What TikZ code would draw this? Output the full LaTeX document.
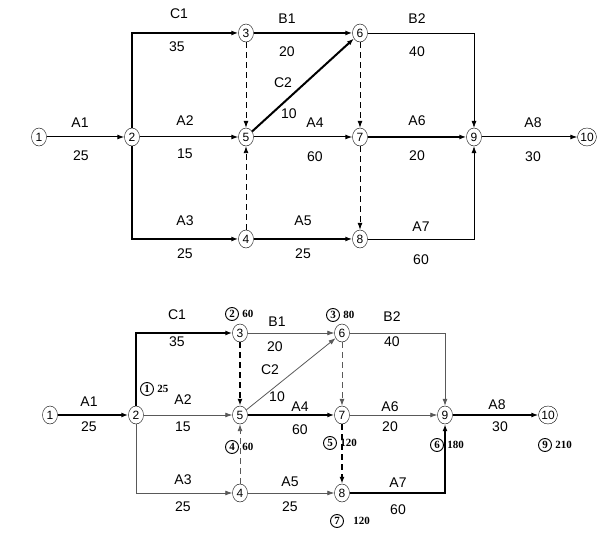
\documentclass[tikz,border=0pt]{standalone}
\usepackage{fontspec}
\setmainfont{Liberation Sans}
\newfontfamily\tagfont{Liberation Serif}
\usetikzlibrary{arrows.meta,shapes.geometric}

\tikzset{
  ev/.style={ellipse, draw, inner sep=0pt, minimum width=15pt, minimum height=18pt, font=\fontsize{12}{12}\selectfont},
  tag/.style={circle, draw, line width=0.9pt, inner sep=0pt, minimum size=13pt, font=\tagfont\fontsize{11}{11}\selectfont\bfseries},
  val/.style={font=\tagfont\fontsize{11}{11}\selectfont\bfseries, anchor=west},
  lab/.style={font=\fontsize{14}{14}\selectfont},
  act/.style={-{Latex[length=7pt,width=5pt]}, line width=1pt},
  heavy/.style={-{Latex[length=7pt,width=5pt]}, line width=2pt},
  light/.style={-{Latex[length=7pt,width=5pt]}, line width=0.8pt, gray!70!black},
  dummy/.style={-{Latex[length=7pt,width=5pt]}, dash pattern=on 6pt off 4pt, line width=0.9pt},
}

\begin{document}
\begin{tikzpicture}[x=1pt,y=-1pt]
\useasboundingbox (0,0) rectangle (614,537);
% upper network
\node[ev] (t1) at (39,137) {1};
\node[ev] (t2) at (132,137) {2};
\node[ev] (t3) at (246,33) {3};
\node[ev] (t5) at (246,137) {5};
\node[ev] (t4) at (246,239) {4};
\node[ev] (t6) at (360,33) {6};
\node[ev] (t7) at (360,137) {7};
\node[ev] (t8) at (360,239) {8};
\node[ev] (t9) at (474,137) {9};
\node[ev] (t10) at (587,137) {10};
\draw[act] (t1) -- (t2);
\draw[heavy] (t2) |- (t3);
\draw[act] (t2) -- (t5);
\draw[heavy] (t2) |- (t4);
\draw[heavy] (t3) -- (t6);
\draw[heavy] (t5) -- (t6);
\draw[act] (t5) -- (t7);
\draw[heavy] (t4) -- (t8);
\draw[dummy] (t3) -- (t5);
\draw[dummy] (t4) -- (t5);
\draw[dummy] (t6) -- (t7);
\draw[dummy] (t7) -- (t8);
\draw[act, line width=0.6pt] (t6) -| (t9);
\draw[heavy] (t7) -- (t9);
\draw[act, line width=0.6pt] (t8) -| (t9);
\draw[act] (t9) -- (t10);
\node[lab] at (80,123) {A1};  \node[lab] at (81,156) {25};
\node[lab] at (179,14) {C1};  \node[lab] at (177,47) {35};
\node[lab] at (185,121) {A2}; \node[lab] at (185,154) {15};
\node[lab] at (185,221) {A3}; \node[lab] at (185,254) {25};
\node[lab] at (287,19) {B1};  \node[lab] at (287,52) {20};
\node[lab] at (283,83) {C2};  \node[lab] at (289,114) {10};
\node[lab] at (315,123) {A4}; \node[lab] at (315,157) {60};
\node[lab] at (303,221) {A5}; \node[lab] at (303,254) {25};
\node[lab] at (417,19) {B2};  \node[lab] at (417,52) {40};
\node[lab] at (417,121) {A6}; \node[lab] at (417,156) {20};
\node[lab] at (421,227) {A7}; \node[lab] at (421,260) {60};
\node[lab] at (533,123) {A8}; \node[lab] at (533,157) {30};

% lower network
\node[ev] (b1) at (50,415) {1};
\node[ev] (b2) at (136,415) {2};
\node[ev] (b3) at (240,333) {3};
\node[ev] (b5) at (240,415) {5};
\node[ev] (b4) at (240,493) {4};
\node[ev] (b6) at (342,333) {6};
\node[ev] (b7) at (342,415) {7};
\node[ev] (b8) at (342,493) {8};
\node[ev] (b9) at (445,415) {9};
\node[ev] (b10) at (548,415) {10};
\draw[heavy] (b1) -- (b2);
\draw[heavy] (b2) |- (b3);
\draw[light] (b2) -- (b5);
\draw[light] (b2) |- (b4);
\draw[light] (b3) -- (b6);
\draw[light] (b5) -- (b6);
\draw[heavy] (b5) -- (b7);
\draw[light] (b4) -- (b8);
\draw[dummy, line width=1.6pt] (b3) -- (b5);
\draw[dummy, gray!70!black] (b4) -- (b5);
\draw[dummy, gray!70!black] (b6) -- (b7);
\draw[dummy, line width=1.6pt] (b7) -- (b8);
\draw[light] (b6) -| (b9);
\draw[light] (b7) -- (b9);
\draw[heavy] (b8) -| (b9);
\draw[heavy] (b9) -- (b10);
\node[lab] at (89,402) {A1};  \node[lab] at (89,427) {25};
\node[lab] at (177,315) {C1}; \node[lab] at (177,342) {35};
\node[lab] at (183,400) {A2}; \node[lab] at (183,427) {15};
\node[lab] at (183,480) {A3}; \node[lab] at (183,507) {25};
\node[lab] at (277,322) {B1}; \node[lab] at (275,347) {20};
\node[lab] at (270,370) {C2}; \node[lab] at (277,397) {10};
\node[lab] at (300,407) {A4}; \node[lab] at (300,430) {60};
\node[lab] at (290,482) {A5}; \node[lab] at (290,507) {25};
\node[lab] at (392,317) {B2}; \node[lab] at (392,342) {40};
\node[lab] at (390,407) {A6}; \node[lab] at (390,427) {20};
\node[lab] at (398,483) {A7}; \node[lab] at (398,510) {60};
\node[lab] at (497,405) {A8}; \node[lab] at (500,427) {30};
% time tags
\node[tag] (q1) at (147,389) {1}; \node[val] at (q1.east) {25};
\node[tag] (q2) at (232,314) {2}; \node[val] at (q2.east) {60};
\node[tag] (q3) at (333,315) {3}; \node[val] at (q3.east) {80};
\node[tag] (q4) at (232,447) {4}; \node[val] at (q4.east) {60};
\node[tag] (q5) at (330,443) {5}; \node[val] at (q5.east) {120};
\node[tag] (q6) at (437,445) {6}; \node[val] at (q6.east) {180};
\node[tag] (q7) at (337,521) {7}; \node[val, xshift=6pt] at (q7.east) {120};
\node[tag] (q9) at (545,445) {9}; \node[val] at (q9.east) {210};
\end{tikzpicture}
\end{document}
